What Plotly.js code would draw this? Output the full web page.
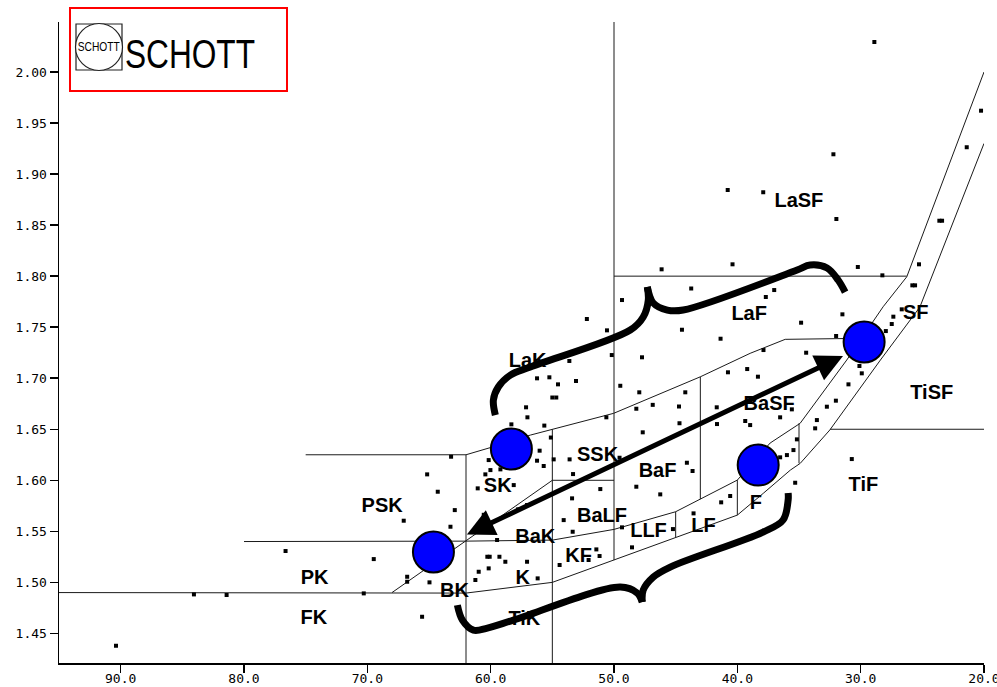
<!DOCTYPE html>
<html><head><meta charset="utf-8">
<script src="https://cdn.plot.ly/plotly-3.0.1.min.js"></script>
<style>body{margin:0;background:#fff}#chart{width:997px;height:687px}</style>
</head><body><div id="chart"></div>
<script>
// ---- Tick labels ----
const xTickVals = [90, 80, 70, 60, 50, 40, 30, 20];
const xTickText = ['90.0', '80.0', '70.0', '60.0', '50.0', '40.0', '30.0', '20.0'];
const yTickVals = [1.45, 1.50, 1.55, 1.60, 1.65, 1.70, 1.75, 1.80, 1.85, 1.90, 1.95, 2.00];
const yTickText = ['1.45', '1.50', '1.55', '1.60', '1.65', '1.70', '1.75', '1.80', '1.85', '1.90', '1.95', '2.00'];

// ---- Glass family labels (Abbe number vd, refractive index nd) ----
const regionNames = ['LaSF', 'LaF', 'LaK', 'SF', 'TiSF', 'BaSF', 'SSK', 'BaF', 'SK', 'TiF', 'PSK', 'BaLF', 'F', 'LLF', 'LF', 'BaK', 'KF', 'K', 'PK', 'BK', 'FK', 'TiK'];
const regionAbbe  = [35.01, 39.04, 57.0, 25.53, 24.24, 37.42, 51.33, 46.47, 59.43, 29.78, 68.80, 50.97, 38.50, 47.20, 42.74, 56.38, 52.87, 57.40, 74.28, 62.94, 74.34, 57.27];
const regionIndex = [1.873, 1.7619, 1.7156, 1.7629, 1.6845, 1.6737, 1.6241, 1.6084, 1.5931, 1.5947, 1.5735, 1.5637, 1.5767, 1.549, 1.5539, 1.5434, 1.5245, 1.5032, 1.5032, 1.4902, 1.464, 1.4631];

// ---- Individual glasses ----
const glassAbbe = [28.89, 20.24, 21.40, 32.21, 40.78, 37.90, 31.97, 23.62, 23.40, 25.27, 40.39, 46.14, 30.23, 28.24, 25.81, 25.59, 43.74, 37.69, 37.01, 49.35,
  31.48, 52.20, 50.57, 44.49, 41.36, 50.18, 47.73, 53.62, 56.24, 55.24, 54.54, 53.08, 49.49, 47.95, 44.22, 40.76, 39.20, 38.33, 37.88, 55.00,
  54.68, 57.13, 57.02, 55.65, 50.62, 48.19, 46.86, 44.73, 41.67, 44.69, 47.67, 39.36, 38.96, 58.32, 55.12, 36.53, 41.65, 56.24, 55.70, 54.89,
  53.60, 53.32, 49.55, 51.11, 53.40, 48.19, 46.25, 44.09, 43.63, 54.08, 53.35, 49.35, 51.43, 51.17, 52.06, 54.41, 48.54, 45.22, 43.55, 41.31,
  40.58, 56.19, 35.98, 63.21, 65.15, 64.29, 62.91, 67.05, 63.26, 76.63, 69.48, 66.77, 66.77, 64.96, 70.29, 65.56, 60.56, 61.05, 60.43, 58.13,
  60.08, 60.27, 59.29, 60.16, 60.97, 61.24, 58.81, 57.05, 57.78, 57.05, 59.48, 60.02, 59.21, 60.16, 56.03, 84.06, 81.41, 90.38, 34.83, 26.67,
  27.35, 27.48, 27.96, 31.99, 34.42, 30.10, 29.91, 30.99, 32.01, 32.74, 35.58, 33.55, 33.69, 35.17, 35.45, 36.53, 30.72, 35.31];
const glassIndex = [2.0294, 1.9621, 1.9263, 1.9194, 1.8844, 1.8822, 1.856, 1.8543, 1.8543, 1.8116, 1.8116, 1.8067, 1.809, 1.8008, 1.791, 1.791, 1.7879, 1.7796, 1.7864, 1.7766,
  1.7626, 1.758, 1.7469, 1.7475, 1.7387, 1.7227, 1.7205, 1.7169, 1.6999, 1.7009, 1.694, 1.6973, 1.6926, 1.6862, 1.6862, 1.7058, 1.709, 1.7015, 1.7276, 1.6811,
  1.6811, 1.6715, 1.6617, 1.6536, 1.6617, 1.6701, 1.6739, 1.6723, 1.6715, 1.6559, 1.647, 1.6581, 1.6541, 1.6548, 1.6419, 1.6617, 1.6551, 1.6192, 1.614, 1.6205,
  1.6205, 1.6061, 1.6221, 1.5914, 1.5823, 1.5937, 1.5862, 1.6172, 1.6091, 1.561, 1.5496, 1.5539, 1.5323, 1.5258, 1.5219, 1.517, 1.5343, 1.5522, 1.5676, 1.5784,
  1.5846, 1.5039, 1.6247, 1.6231, 1.6058, 1.5888, 1.5708, 1.5604, 1.5545, 1.5307, 1.5228, 1.5055, 1.5006, 1.5000, 1.4892, 1.4663, 1.5662, 1.5921, 1.6058, 1.5953,
  1.5251, 1.5251, 1.5251, 1.5137, 1.5104, 1.5023, 1.5202, 1.5202, 1.5715, 1.5758, 1.5415, 1.61, 1.6107, 1.6198, 1.629, 1.4882, 1.4876, 1.4379, 1.7544, 1.7675,
  1.7603, 1.7531, 1.7462, 1.7414, 1.725, 1.712, 1.7048, 1.694, 1.678, 1.6721, 1.6695, 1.659, 1.6509, 1.6401, 1.6296, 1.6225, 1.6208, 1.5976];

// ---- Region boundaries ----
const lowerBandAbbe  = [95, 62, 55, 50, 45, 40, 37.9, 35.7, 34.9, 32.5, 28.4, 25.2, 20];
const lowerBandIndex = [1.49, 1.4895, 1.50, 1.5218, 1.5441, 1.5659, 1.5872, 1.61, 1.6166, 1.6493, 1.7178, 1.7697, 1.93];
const middleBandAbbe  = [80, 62, 55, 50, 45, 40, 37.34, 34.91, 31.13, 28.18, 26.26, 20];
const middleBandIndex = [1.54, 1.5404, 1.5414, 1.5519, 1.5692, 1.6002, 1.6365, 1.6558, 1.7178, 1.77, 1.7994, 2.00];
const upperBandAbbe  = [75, 62, 59.78, 56.78, 50.03, 43.0, 38.96, 36.12, 29.9];
const upperBandIndex = [1.625, 1.625, 1.6329, 1.6443, 1.6656, 1.7014, 1.7244, 1.7381, 1.7391];
const lasfLineAbbe = [50, 26.26];
const lasfLineIndex = [1.80, 1.80];
const tiLineAbbe = [32.48, 20];
const tiLineIndex = [1.65, 1.65];
const pkLineAbbe = [68, 55];
const pkLineIndex = [1.49, 1.60];
const sskLineAbbe = [55, 50];
const sskLineIndex = [1.60, 1.60];
const verticalAbbe = [62, 55, 50, 43, 45, 40, 35];
const verticalFrom = [1.40, 1.40, 1.5218, 1.5816, 1.5441, 1.5659, 1.6166];
const verticalTo   = [1.625, 1.65, 2.10, 1.7014, 1.5692, 1.6002, 1.6558];

// ---- Highlighted glasses (blue circles) ----
const circleAbbe = [58.32, 64.64, 38.31, 29.72];
const circleIndex = [1.6306, 1.5297, 1.6149, 1.7355];

// ---- Arrow ----
const arrowStart = [62.05, 1.5463];
const arrowEnd = [31.43, 1.7217];

// ---- Curly braces ----
const braceTopLeftAbbe  = [59.62, 59.78, 59.38, 58.40, 56.78, 48.68, 47.63, 47.22, 47.30];
const braceTopLeftIndex = [1.6639, 1.6786, 1.6914, 1.7031, 1.711, 1.7472, 1.76, 1.7766, 1.7894];
const braceTopRightAbbe  = [47.30, 46.82, 45.68, 44.39, 35.15, 34.10, 32.72, 31.83, 31.26];
const braceTopRightIndex = [1.7894, 1.7737, 1.7668, 1.7668, 1.806, 1.8109, 1.808, 1.7962, 1.7844];
const braceBotLeftAbbe  = [62.70, 62.29, 61.40, 60.27, 58.16, 49.49, 48.11, 47.71];
const braceBotLeftIndex = [1.4777, 1.463, 1.4532, 1.4552, 1.463, 1.4954, 1.4895, 1.4807];
const braceBotRightAbbe  = [47.71, 47.63, 46.82, 45.44, 37.91, 36.29, 35.88, 35.88];
const braceBotRightIndex = [1.4807, 1.4925, 1.5052, 1.515, 1.5493, 1.5611, 1.5807, 1.5876];

// ---- build traces ----
const thin = {color: '#1a1a1a', width: 1};
const traces = [];
function addLine(x, y, line, shape) {
  traces.push({type: 'scatter', mode: 'lines', x: x, y: y, line: Object.assign({shape: shape || 'linear', smoothing: 1}, line), hoverinfo: 'skip', showlegend: false});
}
addLine(lowerBandAbbe, lowerBandIndex, thin);
addLine(middleBandAbbe, middleBandIndex, thin);
addLine(upperBandAbbe, upperBandIndex, thin);
addLine(lasfLineAbbe, lasfLineIndex, thin);
addLine(tiLineAbbe, tiLineIndex, thin);
addLine(pkLineAbbe, pkLineIndex, thin);
addLine(sskLineAbbe, sskLineIndex, thin);
verticalAbbe.forEach((v, i) => addLine([v, v], [verticalFrom[i], verticalTo[i]], thin));

traces.push({type: 'scatter', mode: 'markers', x: glassAbbe, y: glassIndex,
  marker: {symbol: 'square', size: 4, color: '#000'}, hoverinfo: 'skip', showlegend: false});

traces.push({type: 'scatter', mode: 'text', x: regionAbbe, y: regionIndex, text: regionNames,
  textposition: 'middle center', textfont: {family: 'Liberation Sans, Arial, sans-serif', size: 20, color: '#000', weight: 'bold'},
  hoverinfo: 'skip', showlegend: false});

const thick = {color: '#000', width: 7};
addLine(braceTopLeftAbbe, braceTopLeftIndex, thick, 'spline');
addLine(braceTopRightAbbe, braceTopRightIndex, thick, 'spline');
addLine(braceBotLeftAbbe, braceBotLeftIndex, thick, 'spline');
addLine(braceBotRightAbbe, braceBotRightIndex, thick, 'spline');

traces.push({type: 'scatter', mode: 'markers', x: circleAbbe, y: circleIndex,
  marker: {symbol: 'circle', size: 41, color: '#0000ff', line: {color: '#000', width: 2}}, hoverinfo: 'skip', showlegend: false});

const L = 59, T = 22, W = 925, H = 641;
const px = v => (v - L) / W;
const py = v => (T + H - v) / H;

const axisCommon = {showgrid: false, zeroline: false,
  showline: true, linecolor: '#000', linewidth: 1.5, ticks: 'outside', ticklen: 8, tickwidth: 1.5, tickcolor: '#000',
  ticklabeloverflow: 'allow',
  tickfont: {family: 'DejaVu Sans Mono, monospace', size: 13, color: '#000'}};

const layout = {
  width: 997, height: 687,
  margin: {l: L, r: 997 - L - W, t: T, b: 687 - T - H, pad: 0},
  paper_bgcolor: '#fff', plot_bgcolor: '#fff',
  showlegend: false,
  xaxis: Object.assign({range: [95, 20], tickvals: xTickVals, ticktext: xTickText, ticklabelstandoff: -5}, axisCommon),
  yaxis: Object.assign({range: [1.421, 2.049], tickvals: yTickVals, ticktext: yTickText}, axisCommon),
  shapes: [
    {type: 'rect', xref: 'paper', yref: 'paper', x0: px(70), x1: px(287), y0: py(91), y1: py(8), line: {color: '#ff0000', width: 2}, fillcolor: 'rgba(0,0,0,0)'},
    {type: 'rect', xref: 'paper', yref: 'paper', x0: px(76), x1: px(122), y0: py(70), y1: py(24), line: {color: '#222', width: 1.2}},
    {type: 'circle', xref: 'paper', yref: 'paper', x0: px(75.5), x1: px(122.5), y0: py(70.5), y1: py(23.5), line: {color: '#222', width: 1.2}, fillcolor: '#fff'}
  ],
  annotations: [
    {x: arrowEnd[0], y: arrowEnd[1], ax: arrowStart[0], ay: arrowStart[1], xref: 'x', yref: 'y', axref: 'x', ayref: 'y',
      text: '', showarrow: true, arrowhead: 2, startarrowhead: 2, arrowside: 'end+start', arrowsize: 1.1, startarrowsize: 1.1,
      arrowwidth: 5, arrowcolor: '#000', standoff: 0, startstandoff: 0},
    {x: px(99), y: py(47), xref: 'paper', yref: 'paper', text: 'SCHOTT', showarrow: false, xanchor: 'center', yanchor: 'middle',
      font: {family: 'Liberation Sans, Arial, sans-serif', size: 12, color: '#000'}},
    {x: px(123), y: py(54), xref: 'paper', yref: 'paper', text: 'SCHOTT', showarrow: false, xanchor: 'left', yanchor: 'middle',
      font: {family: 'Liberation Sans, Arial, sans-serif', size: 40, color: '#000'}}
  ]
};

Plotly.newPlot('chart', traces, layout, {staticPlot: true, displayModeBar: false}).then(() => {
  // condense the logo lettering to the logo's narrow width
  document.querySelectorAll('.annotation-text').forEach(t => {
    if (t.textContent !== 'SCHOTT') return;
    const fs = parseFloat(t.style.fontSize || t.getAttribute('font-size') || '0');
    const big = fs > 20;
    const box = t.getBBox();
    t.setAttribute('textLength', big ? 130 : 42);
    t.setAttribute('lengthAdjust', 'spacingAndGlyphs');
    const nb = t.getBBox();
    const shift = big ? (box.x - nb.x) : ((box.x + box.width / 2) - (nb.x + nb.width / 2));
    t.setAttribute('transform', 'translate(' + shift + ',0)');
  });
});
</script>
</body></html>
